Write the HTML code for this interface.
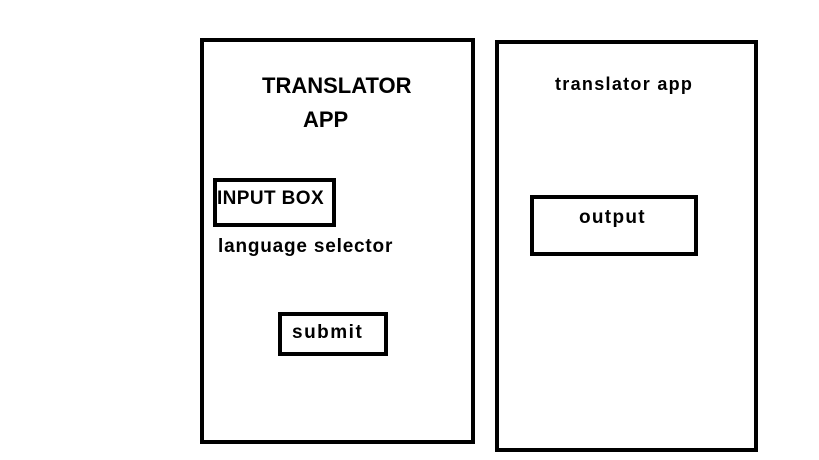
<!DOCTYPE html>
<html><head><style>
body{margin:0;width:819px;height:460px;background:#fff;position:relative;overflow:hidden;font-family:"Liberation Sans",sans-serif;font-weight:bold;color:#000}
.b{position:absolute;box-sizing:border-box;border:4px solid #000}
.t{position:absolute;white-space:nowrap;line-height:1}
</style></head><body>
<div class="b" style="left:200px;top:38px;width:275px;height:406px"></div>
<div class="b" style="left:495px;top:40px;width:263px;height:412px"></div>
<div class="b" style="left:213px;top:178px;width:123px;height:49px"></div>
<div class="b" style="left:278px;top:312px;width:110px;height:44px"></div>
<div class="b" style="left:530px;top:195px;width:168px;height:61px"></div>
<div class="t" style="left:262px;top:75px;font-size:22px">TRANSLATOR</div>
<div class="t" style="left:303px;top:109px;font-size:22px">APP</div>
<div class="t" style="left:217px;top:189px;font-size:19px;letter-spacing:0.4px">INPUT BOX</div>
<div class="t" style="left:218px;top:237px;font-size:19px;letter-spacing:0.8px">language selector</div>
<div class="t" style="left:292px;top:323px;font-size:19px;letter-spacing:1.5px">submit</div>
<div class="t" style="left:555px;top:75px;font-size:18px;letter-spacing:1.3px">translator app</div>
<div class="t" style="left:579px;top:208px;font-size:19px;letter-spacing:1.3px">output</div>
</body></html>
